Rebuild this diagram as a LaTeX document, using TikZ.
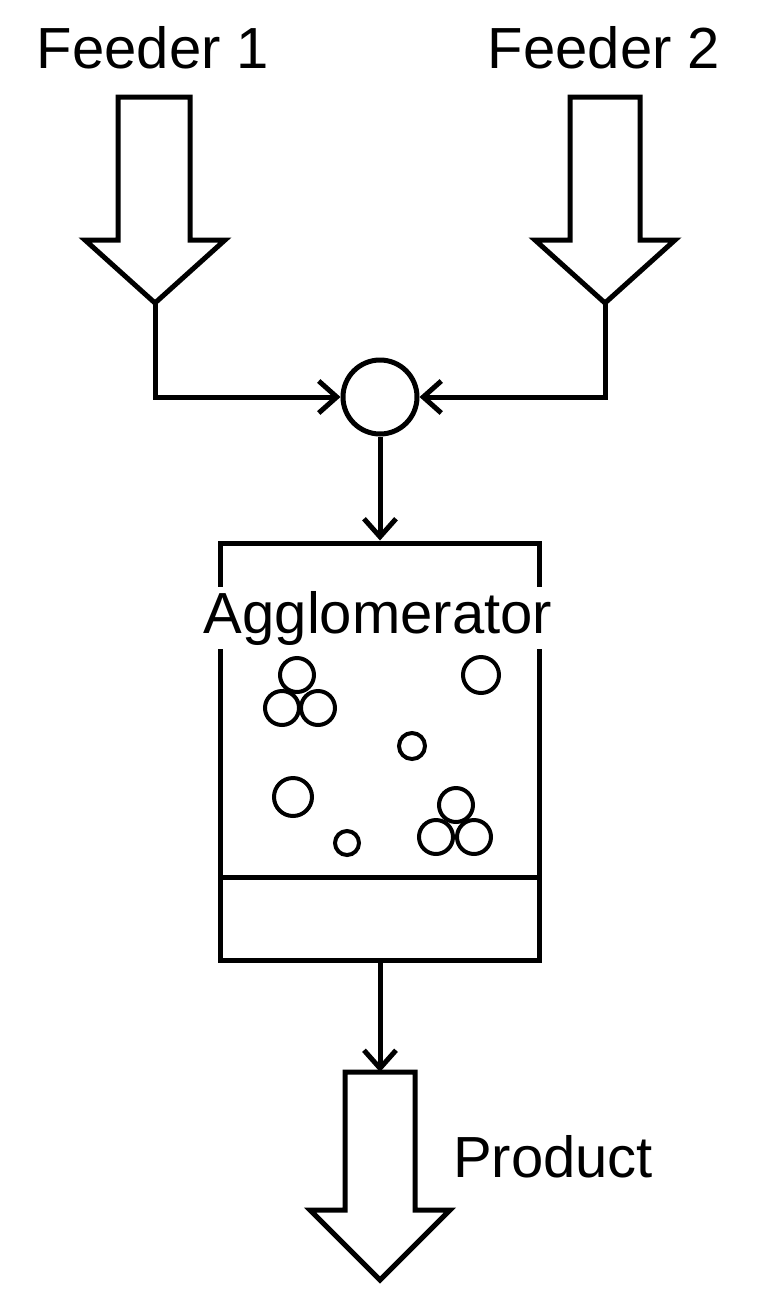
\documentclass[tikz,border=0pt]{standalone}
\usepackage{fontspec}
\setmainfont{Liberation Sans}
\usetikzlibrary{arrows.meta}
\begin{document}
\begin{tikzpicture}[x=1pt,y=-1pt,line width=5pt,
  lbl/.style={font=\fontsize{58}{62}\selectfont,inner sep=0pt},
  flow/.style={-{Straight Barb[length=18pt,width=32pt]}},
  bub/.style={circle,draw,line width=4pt,inner sep=0pt}]
\useasboundingbox (0,0) rectangle (761,1312);
\node[lbl] (f1) at (153,48) {Feeder 1};
\node[lbl] (f2) at (604,48) {Feeder 2};
\draw[line join=miter] (118,97) -- (190,97) -- (190,240) -- (225,240) -- (155,303) -- (85,240) -- (118,240) -- cycle;
\draw[line join=miter] (570,97) -- (640,97) -- (640,240) -- (675,240) -- (605,303) -- (535,240) -- (570,240) -- cycle;
\coordinate (t1) at (155,303);
\coordinate (t2) at (605,303);
\node[circle,draw,minimum size=74pt,inner sep=0pt] (mix) at (380,397) {};
\draw[flow] (t1) |- (mix.west);
\draw[flow] (t2) |- (mix.east);
\node[draw,minimum width=319pt,minimum height=417pt,inner sep=0pt] (box) at (380,751.5) {};
\draw (box.west |- 0,877) -- (box.east |- 0,877);
\draw[flow] (mix.south) -- (box.north);
\node[lbl,fill=white,inner sep=4pt] (ag) at (378,618) {Agglomerator};
\node[bub,minimum size=34pt] (a1) at (297,675) {};
\node[bub,minimum size=34pt] (a2) at (282,708) {};
\node[bub,minimum size=34pt] (a3) at (318,708) {};
\node[bub,minimum size=36pt] (b1) at (481,675) {};
\node[bub,minimum size=26pt] (c1) at (412,746) {};
\node[bub,minimum size=38pt] (d1) at (293,797) {};
\node[bub,minimum size=24pt] (e1) at (347,843) {};
\node[bub,minimum size=34pt] (g1) at (456,805) {};
\node[bub,minimum size=34pt] (g2) at (436,837) {};
\node[bub,minimum size=34pt] (g3) at (474,837) {};
\coordinate (ptop) at (380,1072);
\draw[flow] (box.south) -- (ptop);
\draw[line join=miter] (345,1072) -- (415,1072) -- (415,1210) -- (450,1210) -- (380,1280) -- (310,1210) -- (345,1210) -- cycle;
\node[lbl] (pr) at (553,1157) {Product};
\end{tikzpicture}
\end{document}
